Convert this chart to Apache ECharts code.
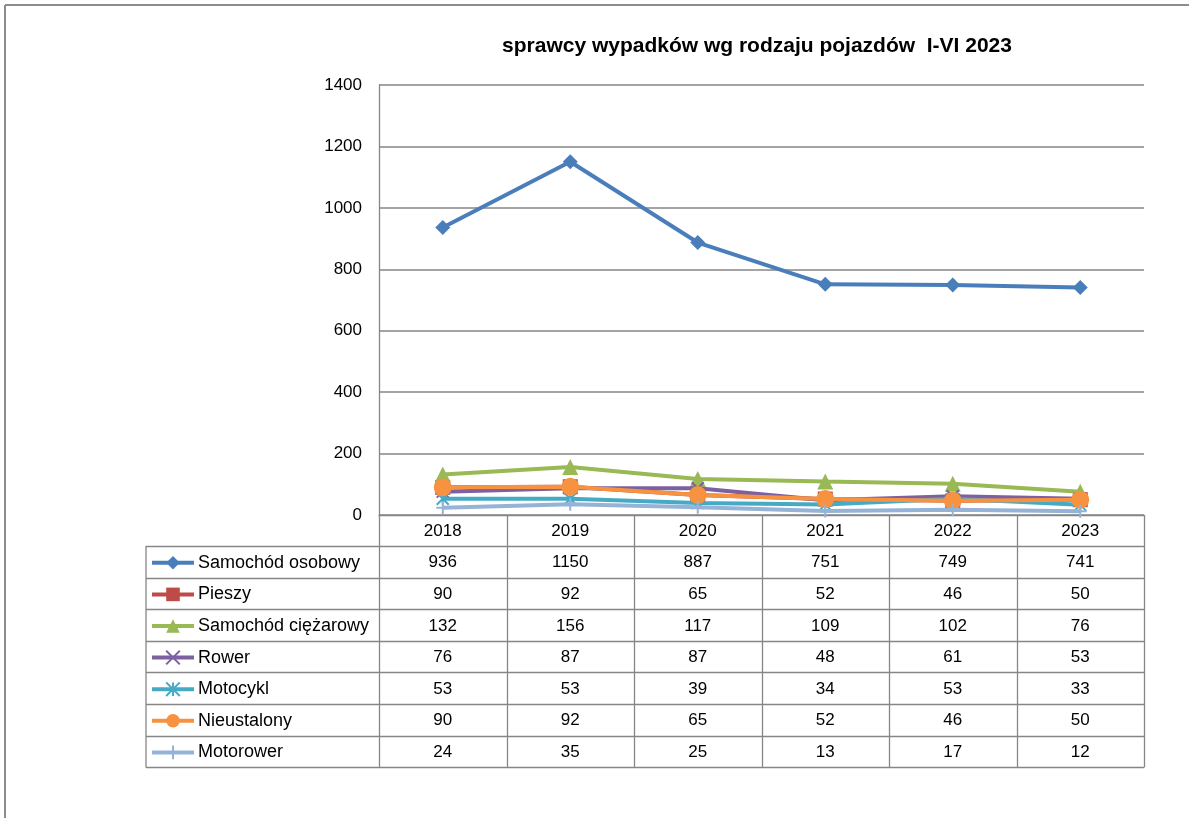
<!DOCTYPE html>
<html>
<head>
<meta charset="utf-8">
<script src="https://cdn.jsdelivr.net/npm/echarts@6/dist/echarts.min.js"></script>
<style>
  html, body { margin: 0; padding: 0; background: #fff; }
  #chart { width: 1189px; height: 818px; }
</style>
</head>
<body>
<div id="chart"></div>
<script>
const years = ['2018', '2019', '2020', '2021', '2022', '2023'];
const seriesNames = ['Samochód osobowy', 'Pieszy', 'Samochód ciężarowy', 'Rower', 'Motocykl', 'Nieustalony', 'Motorower'];
const samochodOsobowy = [936, 1150, 887, 751, 749, 741];
const pieszy = [90, 92, 65, 52, 46, 50];
const samochodCiezarowy = [132, 156, 117, 109, 102, 76];
const rower = [76, 87, 87, 48, 61, 53];
const motocykl = [53, 53, 39, 34, 53, 33];
const nieustalony = [90, 92, 65, 52, 46, 50];
const motorower = [24, 35, 25, 13, 17, 12];
const yTicks = { min: 0, max: 1400, interval: 200 };

const allData = [samochodOsobowy, pieszy, samochodCiezarowy, rower, motocykl, nieustalony, motorower];
const colors = ['#4A7EBB', '#BE4B48', '#98B954', '#7D60A0', '#46AAC5', '#F69240', '#95B3D7'];
const crossPath = 'path://M0,0 L10,10 M10,0 L0,10';
const starPath = 'path://M0,0 L10,10 M10,0 L0,10 M5,0 L5,10';
const plusPath = 'path://M0,5 L10,5 M5,0 L5,10';
const symbols = ['diamond', 'rect', 'triangle', crossPath, starPath, 'circle', plusPath];
const symbolSizes = [15, 15, 16, 12, 12, 18, 13];
const strokeSymbols = [false, false, false, true, true, false, true];

// layout
const plotL = 379, plotR = 1144, plotT = 85, plotB = 515;
const tableL = 146, rowTop = 546, rowH = 31.6;
const colW = (plotR - plotL) / years.length;
const gridColor = '#868686';
const font = 'Liberation Sans, Arial, sans-serif';
const fs = 17;

const chart = echarts.init(document.getElementById('chart'));

const graphics = [];
// outer frame
graphics.push({ type: 'line', shape: { x1: 5, y1: 5, x2: 1189, y2: 5 }, style: { stroke: '#8c8c8c', lineWidth: 2 } });
graphics.push({ type: 'line', shape: { x1: 5, y1: 5, x2: 5, y2: 818 }, style: { stroke: '#8c8c8c', lineWidth: 2 } });
// title
graphics.push({
  type: 'text', x: 757, y: 46,
  style: { text: 'sprawcy wypadków wg rodzaju pojazdów  I-VI 2023', font: 'bold 21px ' + font, fill: '#000', textAlign: 'center', textVerticalAlign: 'middle' }
});
// table horizontal lines
for (let i = 0; i <= seriesNames.length; i++) {
  const y = Math.round(rowTop + i * rowH) + 0.5;
  graphics.push({ type: 'line', shape: { x1: tableL, y1: y, x2: plotR, y2: y }, style: { stroke: gridColor, lineWidth: 1.3 } });
}
const tableBottom = Math.round(rowTop + seriesNames.length * rowH) + 0.5;
// table vertical lines
graphics.push({ type: 'line', shape: { x1: tableL, y1: rowTop, x2: tableL, y2: tableBottom }, style: { stroke: gridColor, lineWidth: 1.3 } });
for (let j = 0; j <= years.length; j++) {
  const x = Math.round(plotL + j * colW) + 0.5;
  graphics.push({ type: 'line', shape: { x1: x, y1: plotB, x2: x, y2: tableBottom }, style: { stroke: gridColor, lineWidth: 1.3 } });
}
// table values
allData.forEach((arr, i) => {
  arr.forEach((v, j) => {
    graphics.push({
      type: 'text', x: plotL + (j + 0.5) * colW, y: rowTop + (i + 0.5) * rowH + 1,
      style: { text: String(v), font: fs + 'px ' + font, fill: '#000', textAlign: 'center', textVerticalAlign: 'middle' }
    });
  });
});

const legends = seriesNames.map((name, i) => ({
  data: [name],
  left: 150,
  top: rowTop + i * rowH + (rowH - 18) / 2 + 1,
  itemWidth: 42,
  itemHeight: 17,
  itemGap: 4,
  padding: 0,
  lineStyle: { width: 4 },
  textStyle: { fontSize: 18, fontFamily: font, color: '#000', padding: [2, 0, 0, -1] }
}));

const series = seriesNames.map((name, i) => ({
  name: name,
  type: 'line',
  data: allData[i],
  symbol: symbols[i],
  symbolSize: symbolSizes[i],
  showAllSymbol: true,
  lineStyle: { color: colors[i], width: 4 },
  itemStyle: strokeSymbols[i]
    ? { color: colors[i], borderColor: colors[i], borderWidth: 2 }
    : { color: colors[i], borderColor: colors[i], borderWidth: 0 },
  emphasis: { disabled: true },
  z: 2 + i
}));

const option = {
  animation: false,
  backgroundColor: '#fff',
  legend: legends,
  grid: {
    left: plotL,
    right: 1189 - plotR,
    top: plotT,
    bottom: 818 - plotB,
    containLabel: false
  },
  xAxis: {
    type: 'category',
    data: years,
    boundaryGap: true,
    axisLine: { show: true, lineStyle: { color: gridColor, width: 1.3 } },
    axisTick: { show: false },
    axisLabel: { color: '#000', fontSize: fs, fontFamily: font, margin: 8 },
    splitLine: { show: false }
  },
  yAxis: {
    type: 'value',
    min: yTicks.min,
    max: yTicks.max,
    interval: yTicks.interval,
    axisLine: { show: true, lineStyle: { color: gridColor, width: 1.3 } },
    axisTick: { show: false },
    axisLabel: { color: '#000', fontSize: fs, fontFamily: font, margin: 17, formatter: (v) => String(v) },
    splitLine: { show: true, lineStyle: { color: gridColor, width: 1.5 } }
  },
  graphic: graphics,
  series: series
};

chart.setOption(option);
</script>
</body>
</html>
